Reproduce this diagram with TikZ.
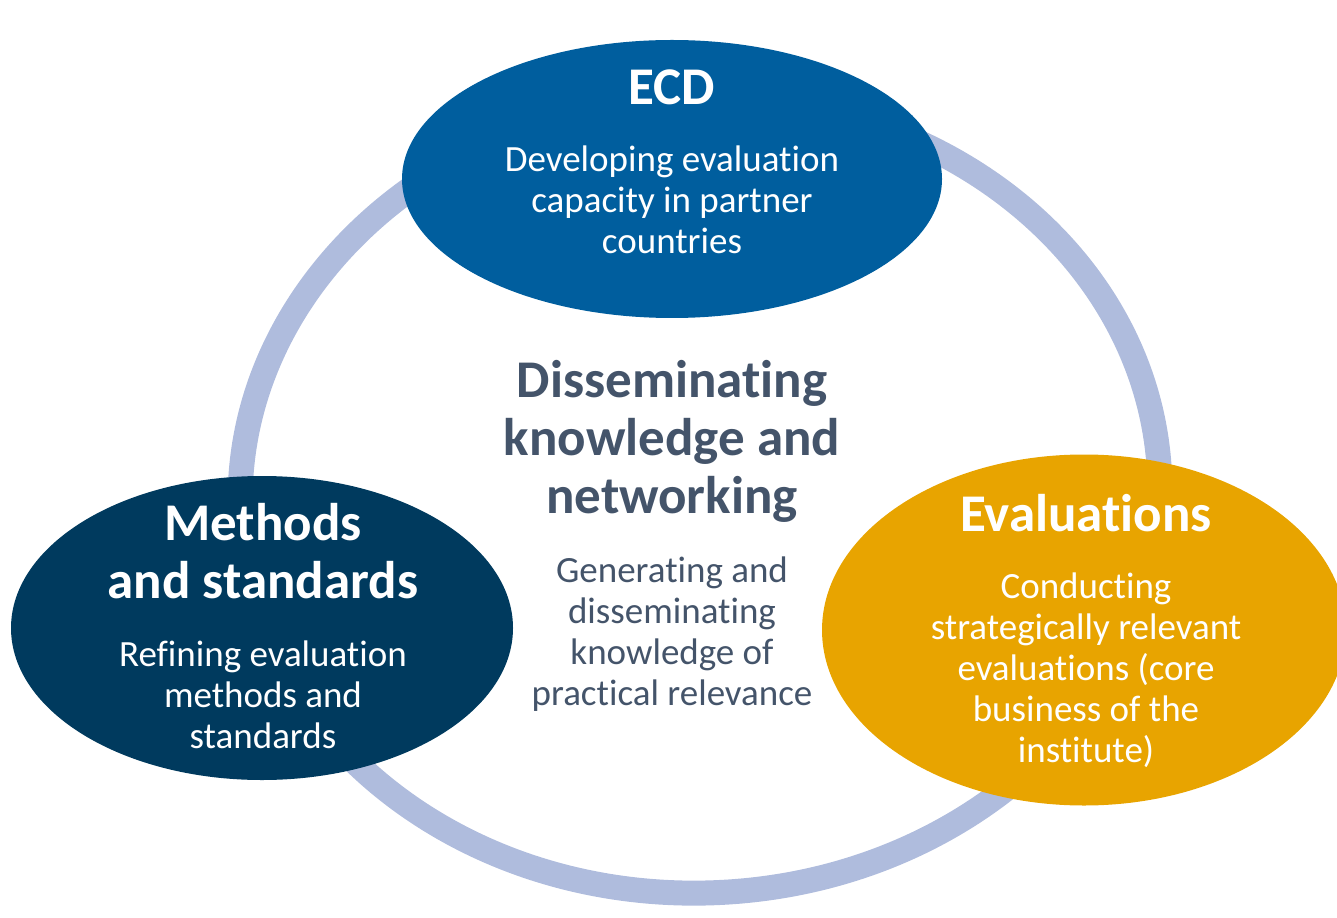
\documentclass[tikz,border=0pt]{standalone}
\usepackage{fontspec}
\setmainfont{Carlito}[Ligatures=NoCommon]
\usetikzlibrary{shapes.geometric}
\definecolor{ringblue}{HTML}{AFBCDD}
\definecolor{ecdblue}{HTML}{005E9E}
\definecolor{methnavy}{HTML}{003A5E}
\definecolor{evalgold}{HTML}{E8A400}
\definecolor{slate}{HTML}{44546A}
\tikzset{
  blob/.style={ellipse, inner sep=0pt, draw=none},
  head/.style={font=\fontsize{26.5}{29}\selectfont\bfseries, align=center, anchor=base, inner sep=0pt},
  body/.style={font=\fontsize{18.5}{20.5}\selectfont, align=center, anchor=base, inner sep=0pt},
}
\begin{document}
\begin{tikzpicture}[x=0.5pt,y=0.5pt]
\useasboundingbox (0,0) rectangle (1337,917);
% ring behind the three fields
\draw[ringblue, line width=12.5pt, rotate around={2.5:(700,422)}] (700,422) ellipse [x radius=460, y radius=398];
% three fields
\node[blob, fill=ecdblue, minimum width=270pt, minimum height=139pt] (ecd) at (672,738){};
\node[blob, fill=methnavy, minimum width=251pt, minimum height=152pt] (meth) at (262,289){};
\node[blob, fill=evalgold, minimum width=262pt, minimum height=175.5pt] (eval) at (1084,287){};
% texts (base = last line)
\node[head, white] (ecdT) at (672,812){ECD};
\node[body, white] (ecdB) at (672,663){Developing evaluation\\capacity in partner\\countries};
\node[head, slate] (knowT) at (672,404){Disseminating\\knowledge and\\networking};
\node[body, slate] (knowB) at (672,212){Generating and\\disseminating\\knowledge of\\practical relevance};
\node[head, white] (methT) at (263,319){Methods\\and standards};
\node[body, white] (methB) at (263,169){Refining evaluation\\methods and\\standards};
\node[head, white] (evalT) at (1086,386){Evaluations};
\node[body, white] (evalB) at (1086,155){Conducting\\strategically relevant\\evaluations (core\\business of the\\institute)};
\end{tikzpicture}
\end{document}
